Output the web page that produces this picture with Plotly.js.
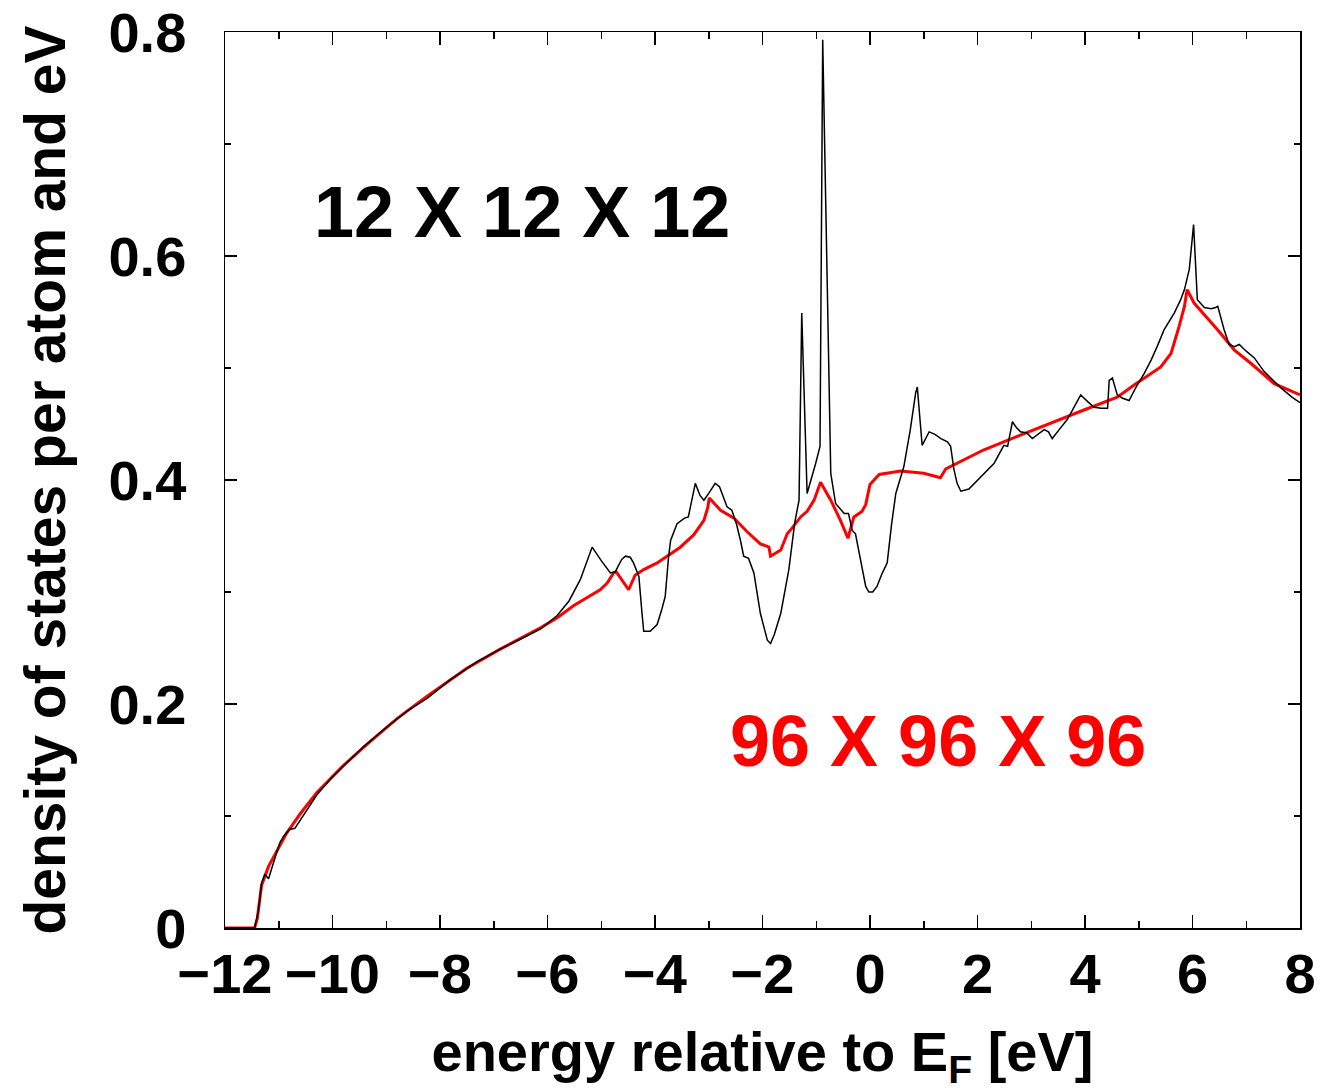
<!DOCTYPE html>
<html>
<head>
<meta charset="utf-8">
<script src="https://cdn.plot.ly/plotly-3.0.1.min.js"></script>
<style>html,body{margin:0;padding:0;background:#fff;}#chart{width:1322px;height:1091px;}</style>
</head>
<body>
<div id="chart"></div>
<script>
// 12 X 12 X 12 k-mesh (black)
const energy12 = [-12,-11.45,-11.38,-11.32,-11.26,-11.19,-11.1,-10.98,-10.91,-10.8,-10.7,-10.5,-10.29,-10.0,-9.7,-9.42,-9.0,-8.6,-8.24,-7.8,-7.3,-6.88,-6.5,-6.13,-5.82,-5.6,-5.39,-5.17,-5.0,-4.83,-4.74,-4.62,-4.55,-4.46,-4.4,-4.3,-4.24,-4.21,-4.09,-3.96,-3.87,-3.81,-3.75,-3.71,-3.59,-3.45,-3.38,-3.34,-3.25,-3.16,-3.09,-3.0,-2.88,-2.8,-2.75,-2.66,-2.57,-2.48,-2.41,-2.35,-2.26,-2.16,-2.04,-1.91,-1.85,-1.78,-1.66,-1.51,-1.4,-1.32,-1.27,-1.17,-1.01,-0.93,-0.88,-0.73,-0.64,-0.48,-0.4,-0.33,-0.27,-0.17,-0.08,-0.02,0.05,0.13,0.22,0.32,0.4,0.48,0.63,0.75,0.85,0.88,0.97,1.1,1.2,1.32,1.44,1.5,1.56,1.62,1.69,1.84,2.06,2.31,2.49,2.56,2.65,2.72,2.8,2.92,3.02,3.14,3.24,3.32,3.39,3.52,3.67,3.82,3.92,4.05,4.17,4.3,4.42,4.45,4.51,4.6,4.7,4.82,4.95,5.1,5.23,5.35,5.47,5.66,5.78,5.85,5.94,6.02,6.09,6.22,6.35,6.43,6.47,6.59,6.68,6.78,6.87,7.0,7.15,7.33,7.5,7.65,7.85,8.0];
const dos12 = [0,0,0.015,0.04,0.048,0.044,0.058,0.076,0.082,0.088,0.089,0.104,0.119,0.135,0.149,0.162,0.179,0.194,0.205,0.222,0.238,0.249,0.258,0.267,0.279,0.292,0.311,0.34,0.328,0.317,0.318,0.329,0.332,0.331,0.326,0.314,0.28,0.265,0.265,0.271,0.285,0.296,0.33,0.346,0.361,0.366,0.367,0.376,0.397,0.386,0.382,0.388,0.397,0.394,0.388,0.376,0.373,0.36,0.346,0.332,0.33,0.317,0.281,0.257,0.254,0.262,0.281,0.32,0.362,0.382,0.549,0.388,0.415,0.43,0.793,0.406,0.379,0.37,0.37,0.355,0.352,0.326,0.305,0.3,0.3,0.305,0.316,0.326,0.36,0.388,0.412,0.445,0.478,0.483,0.431,0.443,0.441,0.437,0.434,0.43,0.41,0.397,0.39,0.392,0.403,0.415,0.431,0.43,0.452,0.447,0.443,0.442,0.437,0.441,0.445,0.443,0.437,0.445,0.454,0.467,0.476,0.47,0.465,0.464,0.464,0.489,0.491,0.476,0.473,0.471,0.483,0.495,0.507,0.52,0.534,0.549,0.561,0.57,0.588,0.628,0.561,0.554,0.553,0.554,0.555,0.534,0.521,0.519,0.521,0.515,0.509,0.497,0.489,0.482,0.474,0.469];

// 96 X 96 X 96 k-mesh (red)
const energy96 = [-12,-11.45,-11.4,-11.32,-11.19,-11.0,-10.85,-10.6,-10.29,-9.8,-9.36,-8.8,-8.24,-7.5,-6.88,-6.13,-5.82,-5.51,-5.02,-4.89,-4.77,-4.72,-4.6,-4.49,-4.37,-4.21,-3.96,-3.78,-3.53,-3.28,-3.09,-3.02,-2.99,-2.78,-2.53,-2.29,-2.04,-1.88,-1.85,-1.66,-1.54,-1.45,-1.29,-1.17,-1.04,-0.92,-0.73,-0.55,-0.41,-0.3,-0.15,-0.08,0.0,0.17,0.57,1.0,1.31,1.41,2.12,2.74,3.36,3.98,4.6,4.92,5.41,5.6,5.75,5.85,5.9,6.03,6.47,6.78,7.09,7.52,8.0];
const dos96 = [0,0,0.008,0.038,0.055,0.072,0.085,0.102,0.121,0.145,0.164,0.187,0.207,0.232,0.249,0.268,0.277,0.288,0.302,0.308,0.317,0.318,0.31,0.302,0.315,0.32,0.326,0.332,0.34,0.351,0.364,0.375,0.384,0.373,0.366,0.354,0.343,0.34,0.332,0.3375,0.352,0.357,0.367,0.372,0.382,0.398,0.382,0.364,0.348,0.367,0.372,0.378,0.396,0.405,0.408,0.406,0.402,0.41,0.427,0.439,0.451,0.4625,0.474,0.485,0.501,0.513,0.537,0.555,0.57,0.558,0.534,0.516,0.504,0.486,0.476];

const seriesLabels = ['96 X 96 X 96', '12 X 12 X 12'];
const yTickVals = [0, 0.2, 0.4, 0.6, 0.8];
const yTickText = ['0', '0.2', '0.4', '0.6', '0.8'];
const xTitle = 'energy relative to E<sub>F</sub> [eV]';
const yTitle = 'density of states per atom and eV';

const FONT = 'Liberation Sans, Arial, Helvetica, sans-serif';

const traces = [
  {x: energy96, y: dos96, mode: 'lines', name: seriesLabels[0], line: {color: '#ff0000', width: 3}},
  {x: energy12, y: dos12, mode: 'lines', name: seriesLabels[1], line: {color: '#000000', width: 1.5}}
];

const layout = {
  width: 1322, height: 1091,
  paper_bgcolor: '#ffffff', plot_bgcolor: '#ffffff',
  showlegend: false,
  margin: {l: 225, r: 22, t: 32, b: 163},
  font: {family: FONT, color: '#000', size: 56, weight: 'bold'},
  xaxis: {
    range: [-12, 8], tick0: -12, dtick: 2,
    showgrid: false, zeroline: false,
    showline: true, linecolor: '#000', linewidth: 1.5, mirror: 'ticks',
    ticks: 'inside', ticklen: 13, tickwidth: 1.5, tickcolor: '#000',
    minor: {dtick: 1, ticks: 'inside', ticklen: 7, tickwidth: 1.5, tickcolor: '#000', showgrid: false},
    tickfont: {family: FONT, size: 56, weight: 'bold', color: '#000'},
    ticklabelstandoff: -4,
    title: {text: xTitle, font: {family: FONT, size: 56, weight: 'bold', color: '#000'}, standoff: 34},
    automargin: false
  },
  yaxis: {
    range: [0, 0.8],
    tickmode: 'array', tickvals: yTickVals, ticktext: yTickText,
    showgrid: false, zeroline: false,
    showline: true, linecolor: '#000', linewidth: 1.5, mirror: 'ticks',
    ticks: 'inside', ticklen: 12, tickwidth: 1.5, tickcolor: '#000',
    minor: {dtick: 0.1, tick0: 0, ticks: 'inside', ticklen: 6, tickwidth: 1.5, tickcolor: '#000', showgrid: false},
    tickfont: {family: FONT, size: 56, weight: 'bold', color: '#000'},
    ticklabelstandoff: 26,
    title: {text: yTitle, font: {family: FONT, size: 57, weight: 'bold', color: '#000'}, standoff: 24},
    automargin: false
  },
  annotations: [
    {xref: 'paper', yref: 'paper', x: 0.276, y: 0.799, xanchor: 'center', yanchor: 'middle', showarrow: false,
     text: seriesLabels[1], font: {family: FONT, size: 72, weight: 'bold', color: '#000000'}},
    {xref: 'paper', yref: 'paper', x: 0.663, y: 0.209, xanchor: 'center', yanchor: 'middle', showarrow: false,
     text: seriesLabels[0], font: {family: FONT, size: 72, weight: 'bold', color: '#ff0000'}}
  ]
};

Plotly.newPlot('chart', traces, layout, {displayModeBar: false, staticPlot: true});
</script>
</body>
</html>
